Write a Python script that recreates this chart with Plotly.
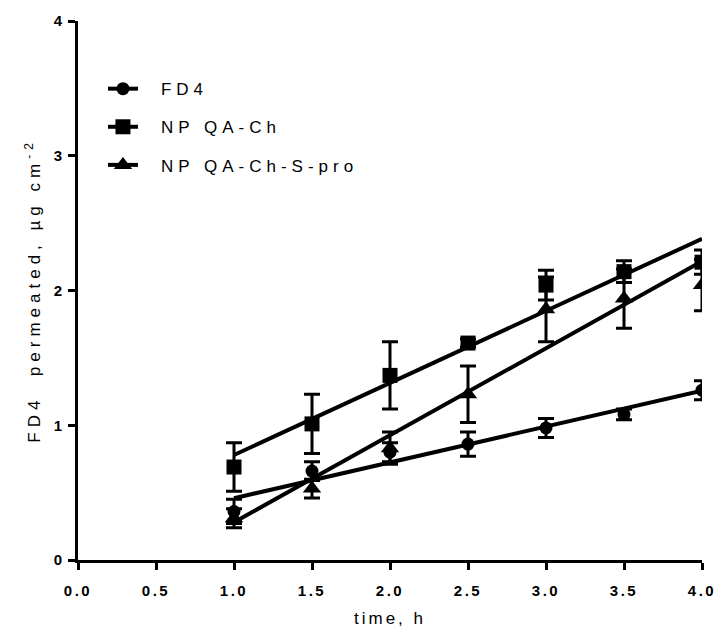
import numpy as np
import plotly.graph_objects as go

# Sampling times (h)
time_h = [1.0, 1.5, 2.0, 2.5, 3.0, 3.5, 4.0]

# Mean FD4 permeated (µg cm^-2) and SD for each formulation
fd4_mean = [0.36, 0.66, 0.80, 0.86, 0.98, 1.08, 1.26]
fd4_sd = [0.09, 0.07, 0.07, 0.09, 0.07, 0.04, 0.07]

qa_ch_mean = [0.69, 1.01, 1.37, 1.61, 2.04, 2.14, 2.21]
qa_ch_sd = [0.18, 0.22, 0.25, 0.03, 0.11, 0.08, 0.09]

qa_ch_spro_mean = [0.31, 0.53, 0.83, 1.23, 1.86, 1.94, 2.04]
qa_ch_spro_sd = [0.07, 0.07, 0.12, 0.21, 0.24, 0.22, 0.19]

series_names = ["FD4", "NP QA-Ch", "NP QA-Ch-S-pro"]
x_ticks = [0.0, 0.5, 1.0, 1.5, 2.0, 2.5, 3.0, 3.5, 4.0]
y_ticks = [0, 1, 2, 3, 4]

FONT = "Liberation Sans, Arial, sans-serif"
BLACK = "#000000"

series = [
    (series_names[0], fd4_mean, fd4_sd, "circle", 13),
    (series_names[1], qa_ch_mean, qa_ch_sd, "square", 15),
    (series_names[2], qa_ch_spro_mean, qa_ch_spro_sd, "triangle-up", 16),
]

fig = go.Figure()

x_arr = np.array(time_h)
for i, (name, mean, sd, symbol, size) in enumerate(series):
    # linear regression over the sampled interval
    slope, intercept = np.polyfit(x_arr, np.array(mean), 1)
    x_fit = np.array([x_arr.min(), x_arr.max()])
    fig.add_trace(go.Scatter(
        x=x_fit, y=slope * x_fit + intercept, mode="lines",
        line=dict(color=BLACK, width=4), showlegend=False, hoverinfo="skip",
    ))
    # measured means with SD error bars
    fig.add_trace(go.Scatter(
        x=time_h, y=mean, mode="markers",
        marker=dict(symbol=symbol, size=size, color=BLACK),
        error_y=dict(type="data", array=sd, visible=True,
                     color=BLACK, thickness=3, width=8),
        showlegend=False, name=name,
    ))
    # legend entry: marker on a line segment
    fig.add_trace(go.Scatter(
        x=[None], y=[None], mode="lines+markers", name=name,
        line=dict(color=BLACK, width=4),
        marker=dict(symbol=symbol, size=size, color=BLACK),
        legendgroup=f"g{i}",
    ))

axis_common = dict(
    showline=True, linecolor=BLACK, linewidth=3,
    ticks="outside", ticklen=7, tickwidth=3, tickcolor=BLACK,
    showgrid=False, zeroline=False,
    tickfont=dict(family=FONT, size=15, color=BLACK, weight="bold"),
)

fig.update_layout(
    width=724, height=640,
    margin=dict(l=78, r=16, t=17, b=80),
    paper_bgcolor="white", plot_bgcolor="white",
    font=dict(family=FONT, color=BLACK),
    xaxis=dict(
        range=[0, 4], tickvals=x_ticks, tickformat=".1f", ticklabelstandoff=8,
        title=dict(text="time, h", font=dict(family=FONT, size=17, color=BLACK), standoff=15),
        **axis_common,
    ),
    yaxis=dict(
        range=[0, 4], tickvals=y_ticks, ticklabelstandoff=2,
        title=dict(text="FD4  permeated, µg cm<sup>-2</sup>",
                   font=dict(family=FONT, size=17, color=BLACK), standoff=10),
        **axis_common,
    ),
    legend=dict(
        x=0.04, y=0.907, xanchor="left", yanchor="top",
        font=dict(family=FONT, size=17, color=BLACK),
        tracegroupgap=13, bgcolor="rgba(0,0,0,0)",
    ),
    showlegend=True,
)

# widen the character spacing of labels once the chart is drawn,
# and leave a wider gap between legend symbols and their labels
letter_spacing = """
var gd = document.getElementById('{plot_id}');
function spaceText() {
  var rules = [
    ['.legendtext', '5px'],
    ['.xtitle', '3px'],
    ['.ytitle', '5px'],
    ['.xtick text', '2.5px'],
    ['.ytick text', '1px']
  ];
  rules.forEach(function (r) {
    gd.querySelectorAll(r[0]).forEach(function (el) {
      el.style.letterSpacing = r[1];
    });
  });
  gd.querySelectorAll('.legendtext').forEach(function (el) {
    el.style.transform = 'translateX(18px)';
  });
  gd.querySelectorAll('.legend .scrollbox').forEach(function (el) {
    el.removeAttribute('clip-path');
  });
}
spaceText();
gd.on('plotly_afterplot', spaceText);
"""

fig.write_html("out.html", post_script=letter_spacing)
